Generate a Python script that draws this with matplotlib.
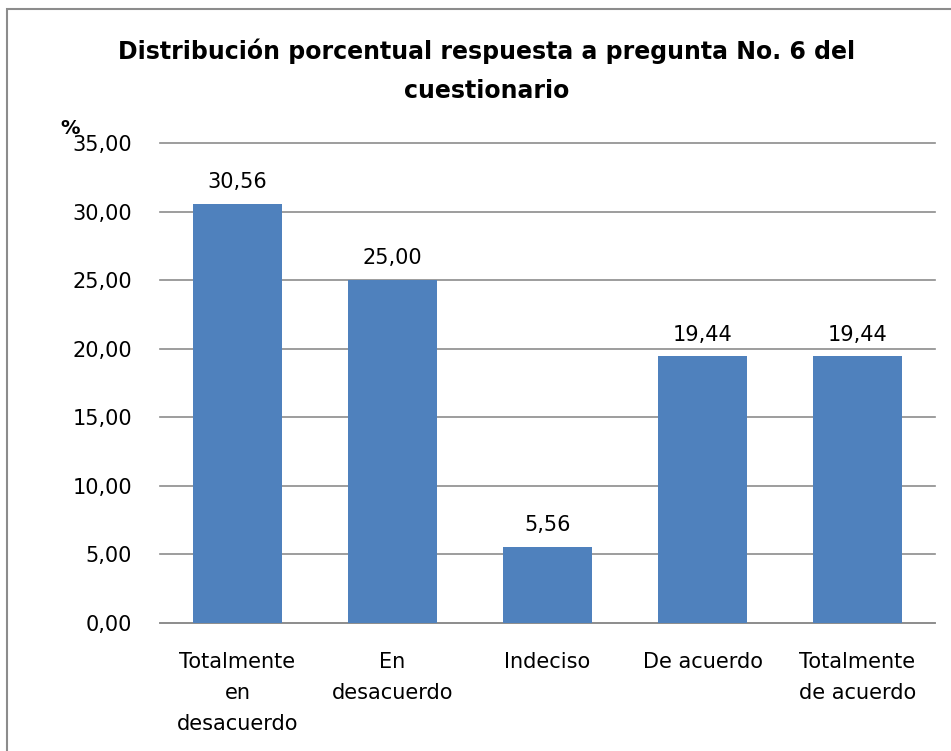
import matplotlib.pyplot as plt
from matplotlib.patches import Rectangle

# data
categories = ["Totalmente\nen\ndesacuerdo", "En\ndesacuerdo", "Indeciso",
              "De acuerdo", "Totalmente\nde acuerdo"]
values = [30.56, 25.00, 5.56, 19.44, 19.44]
yticks = [0, 5, 10, 15, 20, 25, 30, 35]

plt.rcParams['font.family'] = ['DejaVu Sans']

fig = plt.figure(figsize=(9.51, 7.51), dpi=100)
ax = fig.add_axes([160 / 951, 128 / 751, 775 / 951, 480 / 751])

# outer chart border (runs off the right and bottom edges)
fig.patches.append(Rectangle((7 / 951, -0.05), 1.0, 1 - 9 / 751 + 0.05,
                             transform=fig.transFigure, fill=False,
                             edgecolor="#8c8c8c", linewidth=1.5))

x = range(len(values))
ax.bar(x, values, width=0.57, color="#4F81BD", zorder=3)

for i, v in enumerate(values):
    ax.text(i, v + 0.85, f"{v:.2f}".replace(".", ","), ha="center",
            va="bottom", fontsize=15)

ax.set_xlim(-0.5, len(values) - 0.5)
ax.set_ylim(0, 35)
ax.set_yticks(yticks)
ax.set_yticklabels([f"{t:.2f}".replace(".", ",") for t in yticks], fontsize=15)
ax.set_xticks(list(x))
ax.set_xticklabels(categories, fontsize=15, linespacing=1.68)
ax.tick_params(axis="x", length=0, pad=21)
ax.tick_params(axis="y", length=0, pad=20)

ax.grid(axis="y", color="#8c8c8c", linewidth=1.2, zorder=0)
for gl in ax.yaxis.get_gridlines():
    gl.set_clip_on(False)
for side in ["left", "right", "top"]:
    ax.spines[side].set_visible(False)
ax.spines["bottom"].set_color("#8c8c8c")
ax.spines["bottom"].set_linewidth(1.2)

fig.text(487 / 951, 1 - 38 / 751,
         "Distribución porcentual respuesta a pregunta No. 6 del\ncuestionario",
         ha="center", va="top", fontsize=17, fontweight="bold",
         linespacing=1.82)
fig.text(70 / 951, 1 - 129 / 751, "%", ha="center", va="center",
         fontsize=14, fontweight="bold")

fig.savefig("out.png", dpi=100)
